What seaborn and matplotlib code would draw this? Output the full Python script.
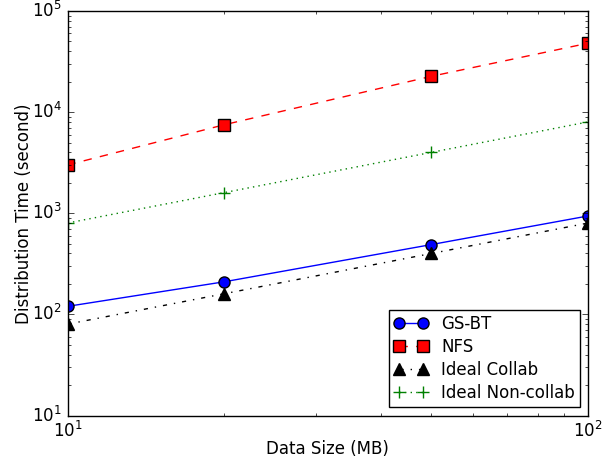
import matplotlib
matplotlib.use("Agg")
import matplotlib.pyplot as plt
import seaborn as sns
import pandas as pd

plt.style.use("classic")

data_size = [10, 20, 50, 100]
gs_bt = [120, 210, 490, 940]
nfs = [3000, 7500, 22600, 48000]
ideal_collab = [80, 160, 400, 800]
ideal_noncollab = [800, 1600, 4000, 8000]

series = [
    ("GS-BT", gs_bt, "b", "-", "o"),
    ("NFS", nfs, "r", "--", "s"),
    ("Ideal Collab", ideal_collab, "k", "-.", "^"),
    ("Ideal Non-collab", ideal_noncollab, "g", ":", "+"),
]

plt.rcParams["font.family"] = ["DejaVu Sans"]
plt.rcParams["font.size"] = 12

fig = plt.figure(figsize=(6.08, 4.61), dpi=100, facecolor="white")
ax = fig.add_axes([67.5 / 608, 1 - 415.5 / 461, (588 - 67.5) / 608, (415.5 - 11) / 461])
ax.set_facecolor("white")

for name, vals, color, ls, mk in series:
    df = pd.DataFrame({"x": data_size, "y": vals})
    sns.lineplot(data=df, x="x", y="y", ax=ax, color=color, linestyle=ls,
                 marker=mk, markersize=8,
                 markeredgecolor="k" if mk != "+" else color,
                 markeredgewidth=1,
                 linewidth=1, label=name, legend=False)

ax.set_xscale("log")
ax.set_yscale("log")
ax.set_xlim(10, 100)
ax.set_ylim(10, 1e5)
ax.set_xlabel("Data Size (MB)", fontsize=12, labelpad=-1)
ax.set_ylabel("Distribution Time (second)", fontsize=12, labelpad=-1)
ax.tick_params(labelsize=12)
ax.legend(loc="lower right", numpoints=2, fontsize=12, frameon=True,
          fancybox=False, borderaxespad=0.5, labelspacing=0.3,
          borderpad=0.3, handletextpad=0.8)

fig.savefig("out.png", dpi=100, facecolor="white")
